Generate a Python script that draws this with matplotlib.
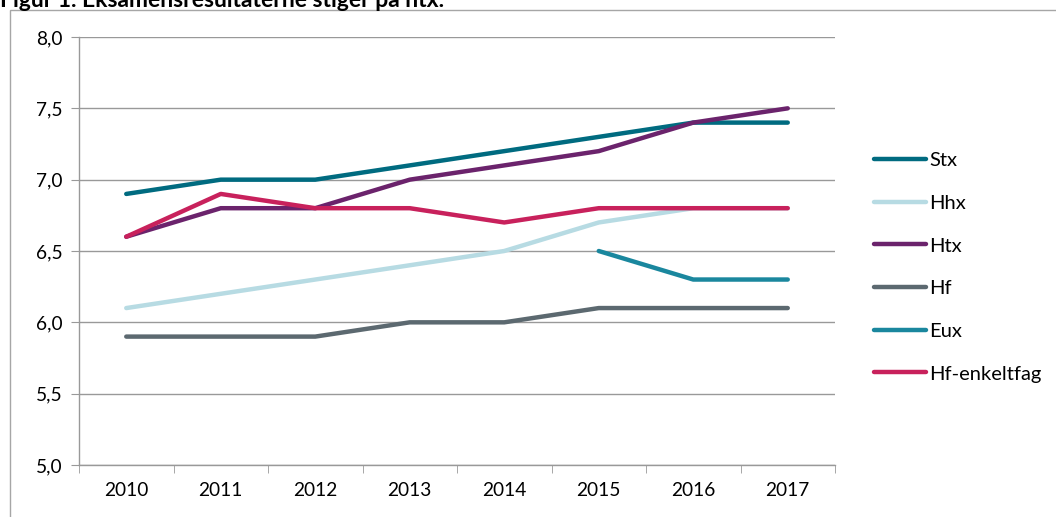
import numpy as np
import matplotlib.pyplot as plt
from matplotlib.patches import Rectangle
from matplotlib.ticker import FuncFormatter, FixedLocator

plt.rcParams['font.family'] = ['Lato', 'DejaVu Sans']

years = ['2010', '2011', '2012', '2013', '2014', '2015', '2016', '2017']
stx = [6.9, 7.0, 7.0, 7.1, 7.2, 7.3, 7.4, 7.4]
hhx = [6.1, 6.2, 6.3, 6.4, 6.5, 6.7, 6.8, 6.8]
htx = [6.6, 6.8, 6.8, 7.0, 7.1, 7.2, 7.4, 7.5]
hf = [5.9, 5.9, 5.9, 6.0, 6.0, 6.1, 6.1, 6.1]
eux = [np.nan, np.nan, np.nan, np.nan, np.nan, 6.5, 6.3, 6.3]
hf_enkeltfag = [6.6, 6.9, 6.8, 6.8, 6.7, 6.8, 6.8, 6.8]

series = [
    ('Stx', stx, '#006b80'),
    ('Hhx', hhx, '#b7dbe3'),
    ('Htx', htx, '#6b236c'),
    ('Hf', hf, '#5c6970'),
    ('Eux', eux, '#1a879e'),
    ('Hf-enkeltfag', hf_enkeltfag, '#c8215c'),
]

W, H = 1056, 517
fig = plt.figure(figsize=(W / 100, H / 100), dpi=100)
ax = fig.add_axes([79 / W, 1 - 465 / H, (835 - 79) / W, (465 - 37) / H])

# outer chart frame (cut off at bottom/right)
fig.patches.append(Rectangle((10 / W, -0.2), 1.5, 1 - 10 / H + 0.2,
                             transform=fig.transFigure, fill=False,
                             edgecolor='#a6a6a6', linewidth=1.0))

x = np.arange(len(years))
for name, vals, col in series:
    ax.plot(x, vals, color=col, lw=3.2, solid_capstyle='round',
            solid_joinstyle='round', label=name)

ax.set_xlim(-0.5, len(years) - 0.5)
ax.set_ylim(5.0, 8.0)
ax.set_yticks(np.arange(5.0, 8.01, 0.5))
ax.yaxis.set_major_formatter(FuncFormatter(lambda v, p: f'{v:.1f}'.replace('.', ',')))
ax.yaxis.grid(True, color='#999999', lw=1.0)
ax.set_axisbelow(True)

ax.set_xticks(x)
ax.set_xticklabels(years)
ax.xaxis.set_minor_locator(FixedLocator(np.arange(-0.5, len(years), 1.0)))
ax.tick_params(axis='x', which='major', length=0, pad=12, labelsize=13.8)
ax.tick_params(axis='x', which='minor', length=6, color='#999999', direction='out')
ax.tick_params(axis='y', length=6, color='#999999', direction='out', pad=6, labelsize=13.8)

for s in ['top', 'right']:
    ax.spines[s].set_visible(False)
for s in ['left', 'bottom']:
    ax.spines[s].set_color('#999999')
    ax.spines[s].set_linewidth(1.0)

ax.legend(loc='upper left', bbox_to_anchor=(866 / W, 1 - 144 / H),
          bbox_transform=fig.transFigure, frameon=False, fontsize=14.5,
          handlelength=2.6, handletextpad=0.15, labelspacing=1.27,
          borderaxespad=0)

fig.text(0, 1 - 7 / H, 'Figur 1. Eksamensresultaterne stiger på htx.',
         fontsize=16.5, fontweight='bold', va='baseline', ha='left')

fig.savefig('out.png', dpi=100)
